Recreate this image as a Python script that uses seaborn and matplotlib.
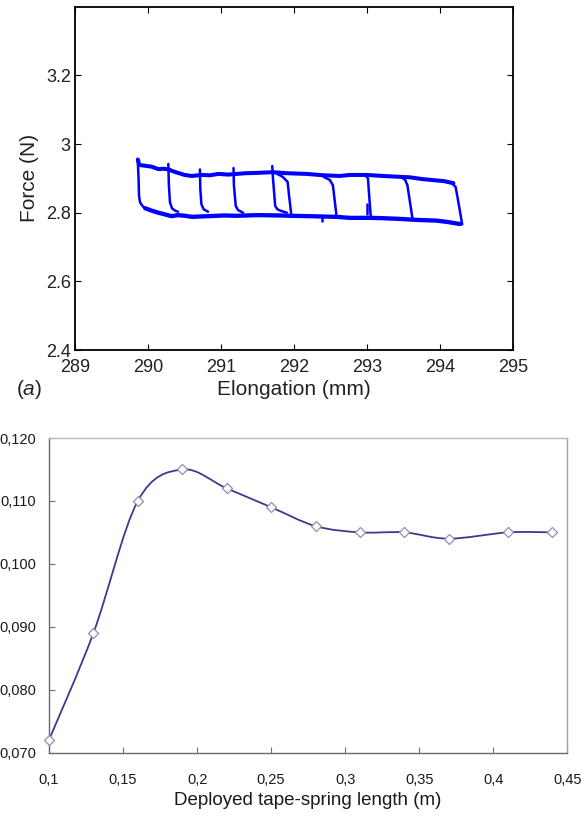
import numpy as np
import pandas as pd
import matplotlib
matplotlib.use("Agg")
import matplotlib.pyplot as plt
import seaborn as sns
from matplotlib.path import Path
from matplotlib.patches import PathPatch

# ---------------- data: panel (a) hysteresis loops ----------------
upper_x = [289.86, 289.88, 289.95, 290.05, 290.14, 290.22, 290.28, 290.35, 290.41, 290.50,
           290.60, 290.73, 290.85, 290.96, 291.10, 291.33, 291.49, 291.71, 291.90, 292.17,
           292.40, 292.63, 292.76, 292.99, 293.22, 293.40, 293.59, 293.75, 293.90, 294.05, 294.18]
upper_y = [2.955, 2.939, 2.937, 2.934, 2.927, 2.928, 2.926, 2.920, 2.916, 2.910,
           2.907, 2.910, 2.909, 2.913, 2.911, 2.915, 2.916, 2.918, 2.915, 2.913,
           2.909, 2.907, 2.910, 2.910, 2.907, 2.905, 2.903, 2.898, 2.895, 2.892, 2.886]

lower_x = [289.96, 290.05, 290.14, 290.25, 290.32, 290.41, 290.51, 290.60, 290.82, 291.05,
           291.20, 291.50, 291.81, 291.95, 292.20, 292.38, 292.57, 292.76, 293.05, 293.22,
           293.45, 293.68, 293.95, 294.10, 294.27]
lower_y = [2.813, 2.806, 2.800, 2.794, 2.790, 2.793, 2.791, 2.788, 2.790, 2.792,
           2.791, 2.793, 2.792, 2.791, 2.790, 2.789, 2.788, 2.785, 2.785, 2.784,
           2.782, 2.779, 2.777, 2.773, 2.767]

drop_x = [[289.858, 289.870, 289.876, 289.890, 289.930, 289.960],
          [290.277, 290.285, 290.300, 290.330, 290.380, 290.410],
          [290.710, 290.715, 290.730, 290.760, 290.820],
          [291.170, 291.175, 291.200, 291.230, 291.300],
          [291.700, 291.710, 291.740, 291.770, 291.810, 291.900],
          [291.750, 291.840, 291.910, 291.930, 291.960],
          [292.400, 292.490, 292.530, 292.580],
          [292.970, 293.010, 293.030, 293.050],
          [293.460, 293.520, 293.550, 293.620],
          [294.150, 294.210, 294.240, 294.300],
          [293.000, 293.000],
          [292.380, 292.380]]
drop_y = [[2.955, 2.900, 2.850, 2.830, 2.818, 2.813],
          [2.942, 2.880, 2.830, 2.812, 2.805, 2.803],
          [2.926, 2.870, 2.825, 2.810, 2.803],
          [2.930, 2.880, 2.820, 2.808, 2.800],
          [2.936, 2.900, 2.820, 2.810, 2.806, 2.800],
          [2.915, 2.905, 2.890, 2.850, 2.795],
          [2.905, 2.895, 2.880, 2.790],
          [2.910, 2.900, 2.840, 2.785],
          [2.905, 2.895, 2.880, 2.782],
          [2.888, 2.875, 2.840, 2.766],
          [2.826, 2.795],
          [2.785, 2.775]]

a_xticks = [289, 290, 291, 292, 293, 294, 295]
a_yticks = [2.4, 2.6, 2.8, 3.0, 3.2]
a_yticklabels = ["2.4", "2.6", "2.8", "3", "3.2"]

# ---------------- data: panel (b) ----------------
length_m = [0.10, 0.13, 0.16, 0.19, 0.22, 0.25, 0.28, 0.31, 0.34, 0.37, 0.41, 0.44]
force_b = [0.072, 0.089, 0.110, 0.115, 0.112, 0.109, 0.106, 0.105, 0.105, 0.104, 0.105, 0.105]
b_xticks = [0.10, 0.15, 0.20, 0.25, 0.30, 0.35, 0.40, 0.45]
b_xticklabels = ["0,1", "0,15", "0,2", "0,25", "0,3", "0,35", "0,4", "0,45"]
b_yticks = [0.070, 0.080, 0.090, 0.100, 0.110, 0.120]
b_yticklabels = ["0,070", "0,080", "0,090", "0,100", "0,110", "0,120"]

# ---------------- style ----------------
sns.set_theme(style="white")
plt.rcParams["font.family"] = ["Liberation Sans", "DejaVu Sans"]
plt.rcParams["mathtext.fontset"] = "custom"
plt.rcParams["mathtext.rm"] = "Liberation Sans"
plt.rcParams["mathtext.it"] = "Liberation Sans:italic"

fig = plt.figure(figsize=(5.86, 8.16), dpi=100)
ax1 = fig.add_axes([0.128, 0.571, 0.748, 0.4208])
ax2 = fig.add_axes([0.0836, 0.0778, 0.8844, 0.3854])

# ---- panel (a)
blue = "#0000ff"
sns.lineplot(data=pd.DataFrame({"x": upper_x, "y": upper_y}), x="x", y="y", sort=False,
             estimator=None, ax=ax1, color=blue, lw=2.9, legend=False)
sns.lineplot(data=pd.DataFrame({"x": lower_x, "y": lower_y}), x="x", y="y", sort=False,
             estimator=None, ax=ax1, color=blue, lw=3.1, legend=False)
for dx, dy in zip(drop_x, drop_y):
    sns.lineplot(data=pd.DataFrame({"x": dx, "y": dy}), x="x", y="y", sort=False,
                 estimator=None, ax=ax1, color=blue, lw=1.8, legend=False)

ax1.set_xlim(289, 295)
ax1.set_ylim(2.4, 3.4)
ax1.set_xticks(a_xticks)
ax1.set_xticklabels([str(v) for v in a_xticks])
ax1.set_yticks(a_yticks)
ax1.set_yticklabels(a_yticklabels)
ax1.tick_params(axis="both", direction="in", length=4, width=0.8, color="black",
                labelsize=13, labelcolor="#222222", top=True, right=True,
                bottom=True, left=True)
ax1.tick_params(axis="x", pad=6.5)
ax1.tick_params(axis="y", pad=3)
for s in ax1.spines.values():
    s.set_color("black")
    s.set_linewidth(1.3)
ax1.set_xlabel("Elongation (mm)", fontsize=15, color="#222222", labelpad=3)
ax1.set_ylabel("Force (N)", fontsize=15, color="#222222", labelpad=5)
fig.text(16 / 586, 1 - 389 / 816, r"($\it{a}$)", fontsize=15, color="#222222",
         ha="left", va="center")

# ---- panel (b)
line_col = "#3b3b8e"
pts = np.column_stack([length_m, force_b])
verts = [tuple(pts[0])]
codes = [Path.MOVETO]
n = len(pts)
for i in range(n - 1):
    p0 = pts[i - 1] if i > 0 else pts[i]
    p1 = pts[i]
    p2 = pts[i + 1]
    p3 = pts[i + 2] if i + 2 < n else pts[i + 1]
    c1 = p1 + (p2 - p0) / 6.0
    c2 = p2 - (p3 - p1) / 6.0
    verts += [tuple(c1), tuple(c2), tuple(p2)]
    codes += [Path.CURVE4, Path.CURVE4, Path.CURVE4]
ax2.add_patch(PathPatch(Path(verts, codes), facecolor="none", edgecolor=line_col, lw=1.3,
                        zorder=2))
sns.scatterplot(data=pd.DataFrame({"x": length_m, "y": force_b}), x="x", y="y", ax=ax2,
                marker="D", s=26, facecolor="white", edgecolor="#9090b0", linewidth=0.9,
                zorder=3, legend=False, clip_on=False)

ax2.set_xlim(0.10, 0.45)
ax2.set_ylim(0.070, 0.120)
ax2.set_xticks(b_xticks)
ax2.set_xticklabels(b_xticklabels)
ax2.set_yticks(b_yticks)
ax2.set_yticklabels(b_yticklabels)
ax2.tick_params(axis="both", direction="in", length=4, width=0.8, color="#707070",
                labelsize=10.5, labelcolor="#1a1a1a", bottom=True, left=True)
ax2.tick_params(axis="x", pad=14.5)
ax2.tick_params(axis="y", pad=9)
ax2.spines["left"].set_color("#6a6a6a")
ax2.spines["bottom"].set_color("#6a6a6a")
ax2.spines["top"].set_color("#b8b8b8")
ax2.spines["right"].set_color("#a0a0a0")
for s in ax2.spines.values():
    s.set_linewidth(1.0)
ax2.set_xlabel("Deployed tape-spring length (m)", fontsize=13.5, color="#1a1a1a", labelpad=4)
ax2.set_ylabel("")

fig.savefig("out.png", dpi=100)
